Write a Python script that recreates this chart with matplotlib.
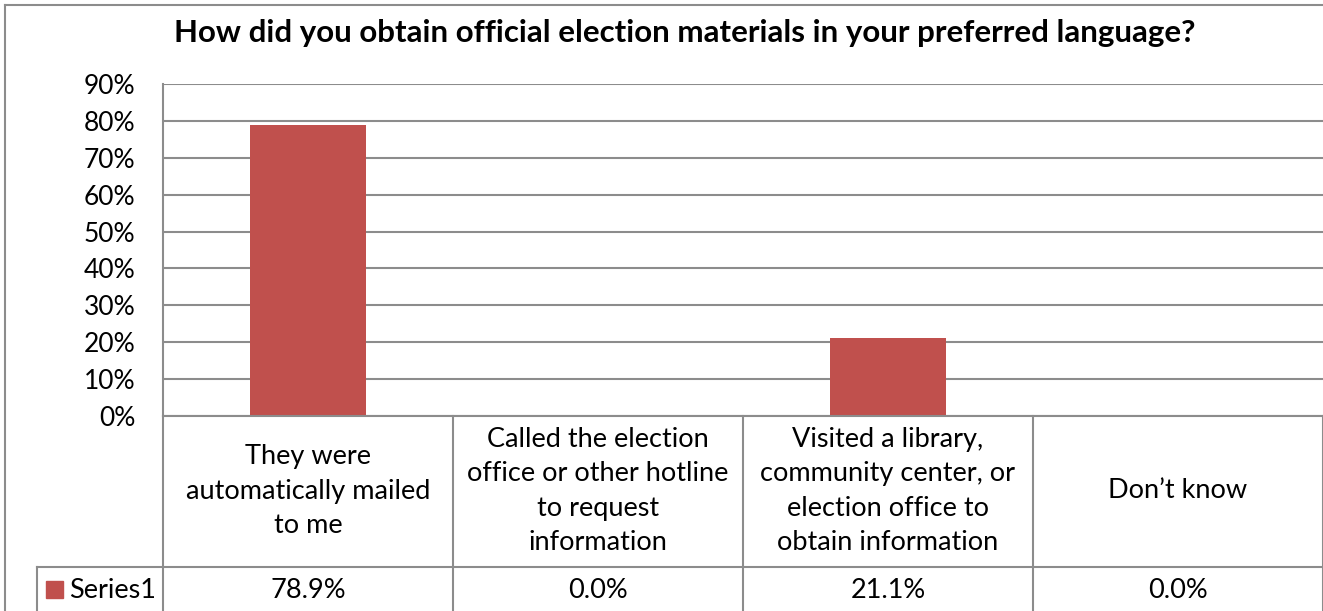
import matplotlib.pyplot as plt
from matplotlib.ticker import PercentFormatter
from matplotlib.transforms import blended_transform_factory
from matplotlib.lines import Line2D
from matplotlib.patches import Rectangle

categories = [
    "They were\nautomatically mailed\nto me",
    "Called the election\noffice or other hotline\nto request\ninformation",
    "Visited a library,\ncommunity center, or\nelection office to\nobtain information",
    "Don\u2019t know",
]
values = [78.9, 0.0, 21.1, 0.0]
series_name = "Series1"
title = "How did you obtain official election materials in your preferred language?"

W, H = 1323, 611
bar_color = "#C0504D"
line_color = "#8C8C8C"
plt.rcParams["font.family"] = ["Lato", "DejaVu Sans"]

fig = plt.figure(figsize=(W / 100, H / 100), dpi=100)
fy = lambda py: 1 - py / H
fx = lambda px: px / W

ax = fig.add_axes([fx(163), fy(416), fx(1323) - fx(163), fy(84) - fy(416)])
x = range(len(values))
ax.bar(x, values, width=0.4, color=bar_color, zorder=3)
ax.set_xlim(-0.5, len(values) - 0.5)
ax.set_ylim(0, 90)
ax.set_yticks(range(0, 91, 10))
ax.yaxis.set_major_formatter(PercentFormatter(decimals=0))
ax.tick_params(axis="y", length=0, pad=20, labelsize=19)
ax.set_xticks([])
ax.grid(axis="y", color=line_color, linewidth=1.5, zorder=0)
for s in ("top", "right", "bottom"):
    ax.spines[s].set_visible(False)
ax.spines["left"].set_color(line_color)
ax.spines["left"].set_linewidth(1.5)

# data table under the plot
tr = blended_transform_factory(ax.transData, fig.transFigure)
for b in [i - 0.5 for i in range(len(values) + 1)]:
    fig.add_artist(Line2D([b, b], [fy(416), 0], transform=tr, color=line_color, lw=1.5))
fig.add_artist(Line2D([fx(163), 1], [fy(416), fy(416)], transform=fig.transFigure, color=line_color, lw=1.5))
fig.add_artist(Line2D([fx(37), 1], [fy(567), fy(567)], transform=fig.transFigure, color=line_color, lw=1.5))
fig.add_artist(Line2D([fx(37), fx(37)], [fy(567), 0], transform=fig.transFigure, color=line_color, lw=1.5))

for i, (cat, v) in enumerate(zip(categories, values)):
    fig.text(i, fy(491), cat, transform=tr, ha="center", va="center", fontsize=19.5, linespacing=1.47)
    fig.text(i, fy(590), f"{v:.1f}%", transform=tr, ha="center", va="center", fontsize=19.5)

fig.add_artist(Rectangle((fx(46), fy(598)), fx(63) - fx(46), fy(581) - fy(598), transform=fig.transFigure, color=bar_color))
fig.text(fx(69), fy(590), series_name, ha="left", va="center", fontsize=19.5)

# outer chart border
fig.add_artist(Line2D([fx(5), fx(5)], [0, fy(5)], transform=fig.transFigure, color=line_color, lw=1.5))
fig.add_artist(Line2D([fx(5), 1], [fy(5), fy(5)], transform=fig.transFigure, color=line_color, lw=1.5))

fig.text(fx(685), fy(33), title, ha="center", va="center", fontsize=22.5, fontweight="bold")

fig.savefig("out.png", dpi=100)
